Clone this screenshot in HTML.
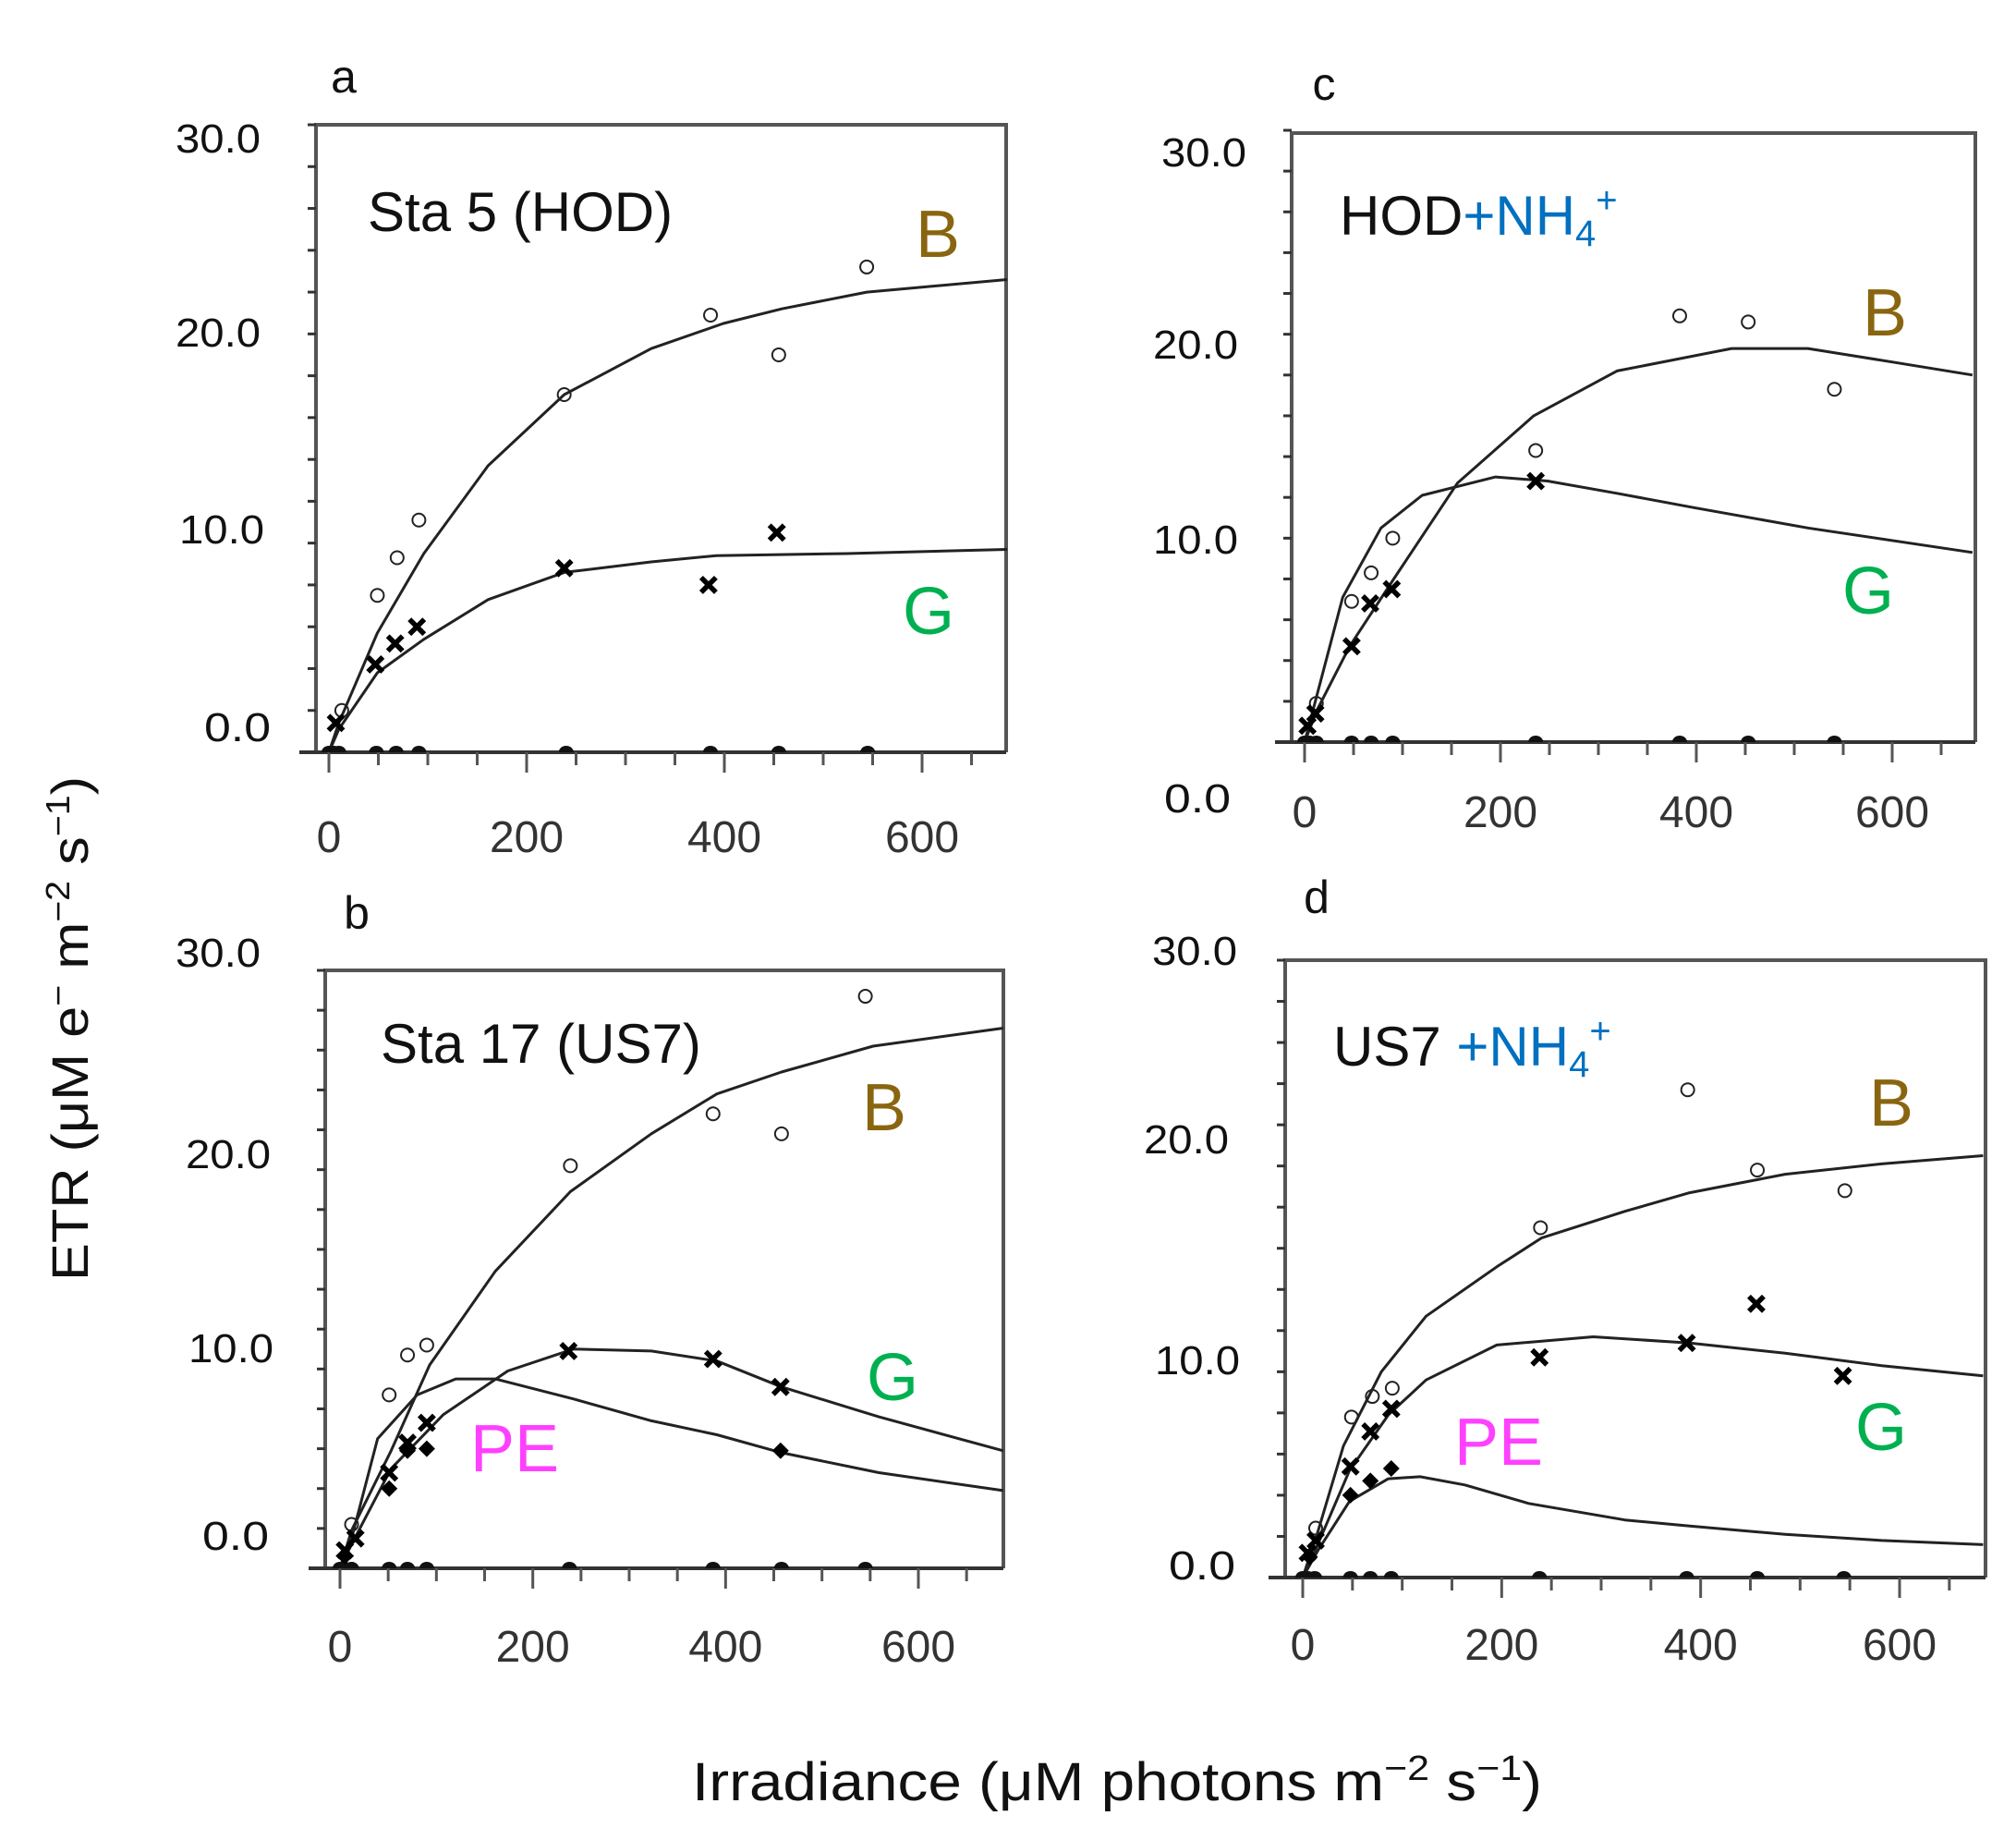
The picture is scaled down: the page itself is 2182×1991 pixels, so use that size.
<!DOCTYPE html>
<html><head><meta charset="utf-8"><style>
html,body{margin:0;padding:0;background:#fff;}
svg{display:block;font-family:"Liberation Sans",sans-serif;}
</style></head><body>
<svg id="chart" width="2182" height="1991" viewBox="0 0 2182 1991" xmlns="http://www.w3.org/2000/svg">
<rect width="2182" height="1991" fill="#fff"/>
<text transform="translate(95,1113) rotate(-90)" text-anchor="middle" font-size="56" textLength="546" lengthAdjust="spacingAndGlyphs" fill="#111">ETR (μM e<tspan dy="-20" font-size="36">−</tspan><tspan dy="20"> m</tspan><tspan dy="-20" font-size="36">−2</tspan><tspan dy="20"> s</tspan><tspan dy="-20" font-size="36">−1</tspan><tspan dy="20">)</tspan></text>
<text x="1209" y="1948" text-anchor="middle" font-size="58" textLength="920" lengthAdjust="spacingAndGlyphs" fill="#111">Irradiance (μM photons m<tspan dy="-22" font-size="38">−2</tspan><tspan dy="22"> s</tspan><tspan dy="-22" font-size="38">−1</tspan><tspan dy="22">)</tspan></text>
</svg>
<script>
// ---- Panel a data ----
const aBx=[13,49,69,91,238,386,455,544];
const aBy=[2.0,7.5,9.3,11.1,17.1,20.9,19.0,23.2];
const aGx=[7,47,67,89,238,384,453];
const aGy=[1.4,4.2,5.2,6.0,8.8,8.0,10.5];
const aZx=[0,5,10,48,68,91,240,386,455,545];
const aCBx=[0,10,49,96,161,238,326,399,458,544,686];
const aCBy=[0,1.4,5.7,9.5,13.7,17.1,19.3,20.5,21.2,22.0,22.6];
const aCGx=[0,10,49,96,161,238,326,392,524,686];
const aCGy=[0,1.1,3.8,5.4,7.3,8.6,9.1,9.4,9.5,9.7];
// ---- Panel b data ----
const bBx=[12,51,70,90,239,387,458,545];
const bBy=[2.2,8.7,10.7,11.2,20.2,22.8,21.8,28.7];
const bGx=[5,16,51,70,90,237,387,457];
const bGy=[0.9,1.5,4.8,6.3,7.3,10.9,10.5,9.1];
const bPx=[5,51,70,90,457];
const bPy=[0.6,4.0,5.9,6.0,5.9];
const bZx=[0,5,12,51,70,90,238,387,458,545];
const bCBx=[0,12,53,93,161,239,323,391,458,553,688];
const bCBy=[0,1.9,5.9,10.2,14.9,18.9,21.8,23.8,24.9,26.2,27.1];
const bCGx=[0,12,53,107,174,242,323,391,458,559,688];
const bCGy=[0,1.2,5.0,7.7,9.9,11.0,10.9,10.4,9.1,7.6,5.9];
const bCPx=[0,12,39,80,120,161,242,323,391,458,559,688];
const bCPy=[0,1.5,6.5,8.7,9.5,9.5,8.5,7.4,6.7,5.8,4.8,3.9];
// ---- Panel c data ----
const cBx=[12,48,68,90,236,383,453,541];
const cBy=[1.9,6.9,8.3,10.0,14.3,20.9,20.6,17.3];
const cGx=[3,11,48,67,89,236];
const cGy=[0.8,1.4,4.7,6.8,7.5,12.8];
const cZx=[0,5,12,48,68,90,236,383,453,541];
const cCBx=[0,13,46,91,156,234,319,436,514,618,682];
const cCBy=[0,1.6,4.7,8.0,12.7,16.0,18.2,19.3,19.3,18.5,18.0];
const cCGx=[0,39,78,120,195,248,319,397,514,682];
const cCGy=[0,7.1,10.5,12.1,13.0,12.8,12.2,11.5,10.5,9.3];
// ---- Panel d data ----
const dBx=[13,49,70,90,239,387,457,545];
const dBy=[2.4,7.8,8.8,9.2,17.0,23.7,19.8,18.8];
const dGx=[5,13,48,68,89,238,386,456,543];
const dGy=[1.2,1.8,5.4,7.1,8.2,10.7,11.4,13.3,9.8];
const dPx=[7,48,68,89];
const dPy=[1.0,4.0,4.7,5.3];
const dZx=[0,5,12,48,68,89,238,386,457,544];
const dCBx=[0,15,41,79,124,195,240,324,389,485,582,684];
const dCBy=[0,2.2,6.4,10.0,12.7,15.1,16.5,17.8,18.7,19.6,20.1,20.5];
const dCGx=[0,15,47,86,124,195,292,389,485,582,684];
const dCGy=[0,1.6,5.2,7.9,9.6,11.3,11.7,11.4,10.9,10.3,9.8];
const dCPx=[0,15,47,86,118,163,227,324,389,485,582,684];
const dCPy=[0,1.3,3.7,4.8,4.9,4.5,3.6,2.8,2.5,2.1,1.8,1.6];

const xTicks=[0,200,400,600];
const yTicks=[0,10,20,30];
const yTickLabels=["0.0","10.0","20.0","30.0"];

const NS="http://www.w3.org/2000/svg";
const svg=document.getElementById('chart');
function mk(tag,attrs,parent){const e=document.createElementNS(NS,tag);for(const k in attrs)e.setAttribute(k,attrs[k]);(parent||svg).appendChild(e);return e;}

const panels=[
 {id:'a',L:342,T:135,R:1089,x0:356,x600:998,y0:814,y30:135,axB:814,
  letter:[372,100],title:[398,250],lab:[[257,802],[240,588],[236,375],[236,165]],xl:922,
  B:[aBx,aBy],G:[aGx,aGy],P:null,Z:aZx,curves:[[aCBx,aCBy],[aCGx,aCGy]],
  Bl:[1015,278],Gl:[1005,686],Pl:null},
 {id:'b',L:352,T:1050,R:1086,x0:368,x600:994,y0:1697,y30:1050,axB:1697,
  letter:[386,1005],title:[412,1150],lab:[[255,1677],[250,1474],[247,1264],[236,1046]],xl:1798,
  B:[bBx,bBy],G:[bGx,bGy],P:[bPx,bPy],Z:bZx,curves:[[bCBx,bCBy],[bCGx,bCGy],[bCPx,bCPy]],
  Bl:[957,1223],Gl:[966,1515],Pl:[557,1592]},
 {id:'c',L:1398,T:144,R:2138,x0:1412,x600:2048,y0:803,y30:141,axB:803,
  letter:[1433,108],title:[1450,254],lab:[[1296,879],[1294,599],[1294,388],[1303,180]],xl:895,
  B:[cBx,cBy],G:[cGx,cGy],P:null,Z:cZx,curves:[[cCBx,cCBy],[cCGx,cCGy]],
  Bl:[2040,363],Gl:[2022,664],Pl:null},
 {id:'d',L:1391,T:1039,R:2149,x0:1410,x600:2056,y0:1707,y30:1039,axB:1707,
  letter:[1425,988],title:[1443,1153],lab:[[1301,1709],[1296,1487],[1284,1248],[1293,1044]],xl:1796,
  B:[dBx,dBy],G:[dGx,dGy],P:[dPx,dPy],Z:dZx,curves:[[dCBx,dCBy],[dCGx,dCGy],[dCPx,dCPy]],
  Bl:[2047,1218],Gl:[2036,1569],Pl:[1622,1585]}
];

panels.forEach(p=>{
 const X=v=>p.x0+(p.x600-p.x0)*v/600;
 const Y=v=>p.y0-(p.y0-p.y30)*v/30;
 const g=mk('g',{});
 
 
 const fr=mk('path',{d:`M${p.L},${p.axB}V${p.T}H${p.R}V${p.axB}`,fill:'none',stroke:'#555',"stroke-width":4},g);
 
 
 const xa=mk('line',{x1:p.L-18,y1:p.axB,x2:p.R,y2:p.axB,stroke:'#333',"stroke-width":4},g);
 
 
 for(let v=0;v<=30;v+=2){
  const t=mk('line',{x1:p.L-9,y1:Y(v),x2:p.L,y2:Y(v),stroke:'#333',"stroke-width":3},g);
  
  
 }
 for(let v=0;v<=686;v+=50){
  const big=v%200===0;
  const t=mk('line',{x1:X(v),y1:p.axB,x2:X(v),y2:p.axB+(big?22:14),stroke:'#555',"stroke-width":3},g);
  
  
 }
 xTicks.forEach(v=>{
  const t=mk('text',{x:X(v),y:p.xl,"text-anchor":'middle',"font-size":48,fill:'#333'},g);
  t.textContent=String(v);
  
  
 });
 yTickLabels.forEach((s,i)=>{
  const t=mk('text',{x:p.lab[i][0],y:p.lab[i][1],"text-anchor":'middle',"font-size":44,fill:'#111',textLength:s.length===4?92:72,lengthAdjust:'spacingAndGlyphs'},g);
  t.textContent=s;
  
  
 });
 const lt=mk('text',{x:p.letter[0],y:p.letter[1],"text-anchor":'middle',"font-size":50,fill:'#111'},g);
 lt.textContent=p.id;
 
 
 const tt=mk('text',{x:p.title[0],y:p.title[1],"font-size":60,fill:'#111'},g);
 
 
 if(p.id==='a')tt.textContent='Sta 5 (HOD)';
 else if(p.id==='b')tt.textContent='Sta 17 (US7)';
 else{
  tt.innerHTML=(p.id==='c'?'HOD':'US7 ')+'<tspan fill="#0070c0">+NH<tspan dy="12" font-size="40">4</tspan><tspan dy="-36" font-size="40">+</tspan></tspan>';
 }
 p.curves.forEach(c=>{
  const d=c[0].map((x,i)=>(i?'L':'M')+X(x).toFixed(1)+','+Y(c[1][i]).toFixed(1)).join('');
  const path=mk('path',{d:d,fill:'none',stroke:'#222',"stroke-width":3,"stroke-linejoin":'round'},g);
  
  
 });
 p.Z.forEach(x=>{
  const e=mk('path',{d:`M${X(x)-8},${p.axB}A8,7 0 0 1 ${X(x)+8},${p.axB}Z`,fill:'#111'},g);
  
  
 });
 p.B[0].forEach((x,i)=>{
  const e=mk('circle',{cx:X(x),cy:Y(p.B[1][i]),r:7,fill:'none',stroke:'#222',"stroke-width":2},g);
  
  
 });
 p.G[0].forEach((x,i)=>{
  const cx=X(x),cy=Y(p.G[1][i]),s=8;
  const e=mk('path',{d:`M${cx-s},${cy-s}L${cx+s},${cy+s}M${cx-s},${cy+s}L${cx+s},${cy-s}`,stroke:'#000',"stroke-width":5.5},g);
  
  
 });
 if(p.P){p.P[0].forEach((x,i)=>{
  const cx=X(x),cy=Y(p.P[1][i]),s=9;
  const e=mk('path',{d:`M${cx},${cy-s}L${cx+s},${cy}L${cx},${cy+s}L${cx-s},${cy}Z`,fill:'#000'},g);
  
  
 });}
 const bl=mk('text',{x:p.Bl[0],y:p.Bl[1],"text-anchor":'middle',"font-size":72,fill:'#8a6510'},g);
 bl.textContent='B';
 
 
 const gl=mk('text',{x:p.Gl[0],y:p.Gl[1],"text-anchor":'middle',"font-size":72,fill:'#00b050'},g);
 gl.textContent='G';
 
 
 if(p.Pl){
  const pl=mk('text',{x:p.Pl[0],y:p.Pl[1],"text-anchor":'middle',"font-size":72,fill:'#ff40ff'},g);
  pl.textContent='PE';
  
  
 }
});
</script>
</body></html>
